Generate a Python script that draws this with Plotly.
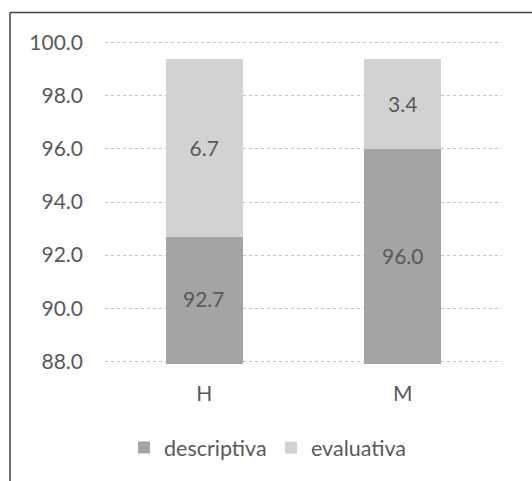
import plotly.graph_objects as go

categories = ["H", "M"]
descriptiva = [92.7, 96.0]
evaluativa = [6.7, 3.4]
y_ticks = [88.0, 90.0, 92.0, 94.0, 96.0, 98.0, 100.0]
y_min, y_max = 88.0, 100.0

W, H = 532, 481
pad = 0.1  # small range padding so the 88 and 100 gridlines are drawn
unit = 318 / (y_max - y_min)  # pixels per unit in the reference
L, R = 105, 30
T = 43 - pad * unit
B = 120 - pad * unit
pw, ph = W - L - R, H - T - B

def px_x(p):
    return (p - L) / pw

def px_y(p):
    return (H - B - p) / ph

font = "Lato, 'Open Sans', sans-serif"
txt_col = "#595959"
FS = 21

fig = go.Figure()
fig.add_trace(go.Bar(
    x=categories, y=descriptiva, name="descriptiva",
    marker=dict(color="#a4a4a4", line=dict(width=0)),
    textposition="none",
))
fig.add_trace(go.Bar(
    x=categories, y=evaluativa, name="evaluativa",
    marker=dict(color="#d2d2d2", line=dict(width=0)),
    text=[f"{v:.1f}" for v in evaluativa], textposition="inside",
    insidetextanchor="middle", textfont=dict(size=FS, color=txt_col, family=font),
))

# labels for the clipped lower segment: centred on its visible part
annotations = [
    dict(x=c, y=(y_min + v) / 2, xref="x", yref="y", text=f"{v:.1f}", showarrow=False,
         font=dict(size=FS, color=txt_col, family=font))
    for c, v in zip(categories, descriptiva)
]

fig.update_layout(
    width=W, height=H,
    margin=dict(l=L, r=R, t=T, b=B),
    barmode="stack", bargap=0.61,
    paper_bgcolor="white", plot_bgcolor="white",
    font=dict(family=font, size=FS, color=txt_col),
    xaxis=dict(showgrid=False, showline=False, ticks="",
               ticklabelstandoff=int(round(18 - pad * unit)),
               tickfont=dict(size=FS, color=txt_col)),
    yaxis=dict(range=[y_min - pad, y_max + pad], tickvals=y_ticks,
               ticktext=[f"{v:.1f}" for v in y_ticks],
               showgrid=True, gridcolor="#c4c4c4", griddash="dot", gridwidth=1,
               zeroline=False, showline=False, ticks="", ticklabelstandoff=21,
               tickfont=dict(size=FS, color=txt_col)),
    legend=dict(orientation="h", x=px_x(124), xanchor="left", y=px_y(447), yanchor="middle",
                font=dict(size=21.5, color=txt_col), traceorder="normal",
                entrywidth=102, entrywidthmode="pixels"),
    annotations=annotations,
    shapes=[
        dict(type="line", xref="paper", yref="paper", x0=px_x(10), x1=px_x(10),
             y0=px_y(13), y1=px_y(481), line=dict(color="#444444", width=1.5)),
        dict(type="line", xref="paper", yref="paper", x0=px_x(10), x1=px_x(532),
             y0=px_y(13), y1=px_y(13), line=dict(color="#444444", width=1.5)),
    ],
)

fig.write_html("out.html", config={"displayModeBar": False},
               post_script="document.body.style.margin='0';")
